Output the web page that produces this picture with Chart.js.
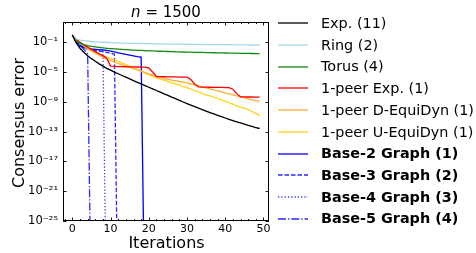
<!DOCTYPE html>
<html><head><meta charset="utf-8">
<script src="https://cdn.jsdelivr.net/npm/chart.js@4.4.0/dist/chart.umd.min.js"></script>
<style>
html,body{margin:0;padding:0;background:#fff;}
#wrap{position:relative;width:476px;height:253px;font-family:'DejaVu Sans',sans-serif;color:#000;overflow:hidden;}
canvas{position:absolute;left:0;top:0;}
.lbl{position:absolute;white-space:nowrap;line-height:1;transform:translate(-50%,-50%);}
.row{position:absolute;left:278px;height:20px;display:flex;align-items:center;white-space:nowrap;font-size:14.4px;line-height:1;}
.row svg{flex:none;margin-right:13px;}
</style></head>
<body><div id="wrap"><canvas id="c" width="476" height="253"></canvas>
<div class="lbl" style="left:166px;top:12px;font-size:15px;"><i>n</i> = 1500</div>
<div class="lbl" style="left:166.5px;top:243px;font-size:16px;">Iterations</div>
<div class="lbl" style="left:19px;top:122.5px;font-size:16px;transform:translate(-50%,-50%) rotate(-90deg);">Consensus error</div>
<div id="legend"></div></div>
<script>
// x categories
const iterations = [0,1,2,3,4,5,6,7,8,9,10,11,12,13,14,15,16,17,18,19,20,21,22,23,24,25,26,27,28,29,30,31,32,33,34,35,36,37,38,39,40,41,42,43,44,45,46,47,48,49];
// series values: log10 of consensus error
const expLog10 = [-0.03,-1.1,-1.8,-2.35,-2.8,-3.2,-3.55,-3.9,-4.2,-4.5,-4.75,-5.0,-5.23,-5.46,-5.69,-5.92,-6.15,-6.38,-6.6,-6.82,-7.04,-7.26,-7.48,-7.7,-7.92,-8.14,-8.36,-8.58,-8.8,-9.02,-9.23,-9.44,-9.65,-9.85,-10.05,-10.25,-10.44,-10.63,-10.81,-10.99,-11.17,-11.34,-11.51,-11.68,-11.84,-12.0,-12.16,-12.31,-12.45,-12.58];
const ringLog10 = [-0.03,-0.55,-0.7,-0.79,-0.85,-0.9,-0.94,-0.97,-1.0,-1.03,-1.05,-1.07,-1.09,-1.11,-1.12,-1.14,-1.15,-1.16,-1.17,-1.18,-1.19,-1.2,-1.21,-1.22,-1.23,-1.24,-1.245,-1.25,-1.26,-1.265,-1.27,-1.28,-1.285,-1.29,-1.3,-1.305,-1.31,-1.315,-1.32,-1.325,-1.33,-1.335,-1.34,-1.345,-1.35,-1.355,-1.36,-1.365,-1.37,-1.37];
const torusLog10 = [-0.03,-0.85,-1.15,-1.33,-1.45,-1.55,-1.63,-1.7,-1.76,-1.81,-1.85,-1.89,-1.93,-1.96,-1.99,-2.02,-2.05,-2.08,-2.1,-2.12,-2.15,-2.17,-2.19,-2.21,-2.23,-2.24,-2.26,-2.28,-2.29,-2.31,-2.32,-2.33,-2.35,-2.36,-2.37,-2.39,-2.4,-2.41,-2.42,-2.43,-2.44,-2.45,-2.46,-2.47,-2.48,-2.49,-2.5,-2.51,-2.52,-2.53];
const onePeerExpLog10 = [-0.03,-0.6,-1.0,-1.35,-1.65,-1.95,-2.25,-2.55,-2.8,-3.15,-4.2,-4.24,-4.27,-4.28,-4.29,-4.3,-4.31,-4.32,-4.33,-4.35,-4.45,-5.0,-5.6,-5.62,-5.63,-5.64,-5.65,-5.66,-5.67,-5.68,-5.69,-6.0,-6.6,-7.0,-7.02,-7.03,-7.04,-7.05,-7.06,-7.07,-7.08,-7.1,-7.3,-7.9,-8.33,-8.34,-8.35,-8.35,-8.36,-8.36];
const dEquiDynLog10 = [-0.03,-0.65,-1.1,-1.5,-1.85,-2.15,-2.45,-2.75,-3.0,-3.25,-3.45,-3.65,-3.85,-4.05,-4.22,-4.38,-4.54,-4.69,-4.85,-5.05,-5.25,-5.42,-5.58,-5.72,-5.85,-5.97,-6.08,-6.18,-6.27,-6.36,-6.45,-6.58,-6.72,-6.85,-6.99,-7.12,-7.26,-7.39,-7.53,-7.66,-7.8,-7.93,-8.07,-8.2,-8.34,-8.47,-8.61,-8.74,-8.85,-8.93];
const uEquiDynLog10 = [-0.03,-0.6,-1.05,-1.45,-1.8,-2.1,-2.35,-2.6,-2.8,-3.0,-3.2,-3.35,-3.55,-3.8,-4.0,-4.2,-4.45,-4.7,-4.9,-5.15,-5.35,-5.6,-5.8,-5.95,-6.1,-6.3,-6.45,-6.6,-6.75,-6.95,-7.1,-7.3,-7.5,-7.65,-7.9,-8.05,-8.2,-8.35,-8.55,-8.75,-8.95,-9.1,-9.3,-9.55,-9.7,-9.85,-10.05,-10.3,-10.55,-10.85];
const base2Log10 = [-0.03,-1.0,-1.5,-1.72,-1.83,-1.9,-1.95,-2.0,-2.04,-2.1,-2.2,-2.3,-2.43,-2.53,-2.63,-2.72,-2.82,-2.92,-3.0,-40];
const base3Log10 = [-0.03,-0.85,-1.35,-1.65,-1.85,-1.97,-2.07,-2.17,-2.27,-2.37,-2.47,-2.62,-40];
const base4Log10 = [-0.03,-0.9,-1.45,-1.8,-1.95,-2.05,-2.12,-2.2,-2.28,-40];
const base5Log10 = [-0.03,-0.8,-1.4,-1.95,-2.58,-40];
// tick labels
const xTickVals = [0,10,20,30,40,50];
const xTickLabels = ['0','10','20','30','40','50'];
const xMinorVals = [-2,2,4,6,8,12,14,16,18,22,24,26,28,32,34,36,38,42,44,46,48];
const yTickExps = [-25,-21,-17,-13,-9,-5,-1];
const yTickLabels = ['10⁻²⁵','10⁻²¹','10⁻¹⁷','10⁻¹³','10⁻⁹','10⁻⁵','10⁻¹'];
const seriesNames = ['Exp. (11)','Ring (2)','Torus (4)','1-peer Exp. (1)','1-peer D-EquiDyn (1)','1-peer U-EquiDyn (1)','Base-2 Graph (1)','Base-3 Graph (2)','Base-4 Graph (3)','Base-5 Graph (4)'];

const seriesData = [expLog10,ringLog10,torusLog10,onePeerExpLog10,dEquiDynLog10,uEquiDynLog10,base2Log10,base3Log10,base4Log10,base5Log10];
const colors = ['#000000','#a9d6ea','#138a13','#ff0000','#ffad33','#ffd21a','#0000ff','#2a2aff','#3a3aff','#2a2aff'];
const dashes = [[],[],[],[],[],[],[],[4.5,2],[1.3,2],[8,2,1.3,2]];
const bold = [false,false,false,false,false,false,true,true,true,true];
const LW = 1.3;

const datasets = seriesData.map((arr,k)=>({
  label: seriesNames[k],
  data: arr.map((e,i)=>({x: iterations[i], y: Math.pow(10,e)})),
  borderColor: colors[k], borderWidth: LW, borderDash: dashes[k],
  pointRadius:0, tension:0, fill:false, clip:0
}));

const frame = {
  id:'frame',
  afterDatasetsDraw(chart){
    const {ctx, chartArea:a, scales:{x,y}} = chart;
    ctx.save();
    ctx.strokeStyle='#000'; ctx.lineWidth=0.9;
    ctx.beginPath();
    const L=3.5, l=2;
    xTickVals.forEach(v=>{const p=Math.round(x.getPixelForValue(v))+0.5; ctx.moveTo(p,a.bottom); ctx.lineTo(p,a.bottom-L); ctx.moveTo(p,a.top); ctx.lineTo(p,a.top+L);});
    xMinorVals.forEach(v=>{const p=Math.round(x.getPixelForValue(v))+0.5; ctx.moveTo(p,a.bottom); ctx.lineTo(p,a.bottom-l); ctx.moveTo(p,a.top); ctx.lineTo(p,a.top+l);});
    yTickExps.forEach(e=>{const p=Math.round(y.getPixelForValue(Math.pow(10,e)))+0.5; ctx.moveTo(a.left,p); ctx.lineTo(a.left+L,p); ctx.moveTo(a.right,p); ctx.lineTo(a.right-L,p);});
    ctx.stroke();
    ctx.lineWidth=1;
    ctx.strokeRect(a.left+0.5, a.top+0.5, a.right-a.left-1, a.bottom-a.top-1);
    ctx.restore();
  }
};

new Chart(document.getElementById('c'), {
  type:'line',
  data:{datasets},
  options:{
    responsive:false, animation:false, devicePixelRatio:1,
    layout:{padding:{top:22,right:207,left:0,bottom:0}},
    plugins:{legend:{display:false}, title:{display:false}, tooltip:{enabled:false}},
    scales:{
      x:{type:'linear', min:-2.45, max:51.45,
        afterFit(s){s.height=32;},
        afterBuildTicks(s){s.ticks=xTickVals.map(v=>({value:v}));},
        grid:{display:false, drawTicks:false}, border:{display:false},
        ticks:{padding:2, color:'#000', font:{family:'DejaVu Sans', size:11}, autoSkip:false, maxRotation:0,
          callback:(v)=>{const i=xTickVals.indexOf(v); return i>=0?xTickLabels[i]:'';}}},
      y:{type:'logarithmic', min:1e-25, max:Math.pow(10,1.72),
        afterFit(s){s.width=63;},
        afterBuildTicks(s){s.ticks=yTickExps.map(e=>({value:Math.pow(10,e)}));},
        grid:{display:false, drawTicks:false}, border:{display:false},
        ticks:{padding:5, color:'#000', font:{family:'DejaVu Sans', size:11.5}, autoSkip:false,
          callback:(v)=>{const i=yTickExps.indexOf(Math.round(Math.log10(v))); return i>=0?yTickLabels[i]:'';}}}
    }
  },
  plugins:[frame]
});

// legend (HTML)
const leg = document.getElementById('legend');
seriesNames.forEach((name,k)=>{
  const cy = 23.3 + 21.7*k;
  const row = document.createElement('div');
  row.className='row'; row.style.top=(cy-10)+'px';
  const dash = dashes[k].length? ` stroke-dasharray="${dashes[k].join(' ')}"`:'';
  row.innerHTML = `<svg width="30" height="6"><line x1="0" y1="3" x2="30" y2="3" stroke="${colors[k]}" stroke-width="${LW}"${dash}/></svg><span style="font-weight:${bold[k]?'bold':'normal'}">${name}</span>`;
  leg.appendChild(row);
});
</script>
</body></html>
